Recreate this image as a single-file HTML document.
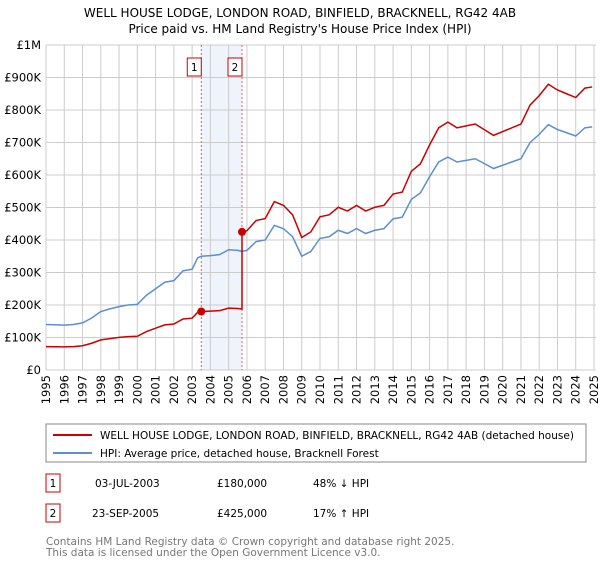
<!DOCTYPE html>
<html><head><meta charset="utf-8"><style>
body{margin:0;background:#fff;font-family:"Liberation Sans","DejaVu Sans",sans-serif;}
svg text{font-family:"DejaVu Sans","Liberation Sans",sans-serif;}
</style></head><body>
<svg id="c" width="600" height="560" xmlns="http://www.w3.org/2000/svg">
<text x="300" y="17" text-anchor="middle" font-size="12">WELL HOUSE LODGE, LONDON ROAD, BINFIELD, BRACKNELL, RG42 4AB</text>
<text x="300" y="33" text-anchor="middle" font-size="12">Price paid vs. HM Land Registry's House Price Index (HPI)</text>
<g id="grid"></g><g id="plot"></g>
<g>
<rect x="46" y="424" width="540" height="38" fill="#fff" stroke="#888"/>
<line x1="53" y1="435" x2="92" y2="435" stroke="#cc0000" stroke-width="2"/>
<text x="100" y="439" font-size="10.5">WELL HOUSE LODGE, LONDON ROAD, BINFIELD, BRACKNELL, RG42 4AB (detached house)</text>
<line x1="53" y1="453" x2="92" y2="453" stroke="#5b8fd0" stroke-width="2"/>
<text x="100" y="457" font-size="10.5">HPI: Average price, detached house, Bracknell Forest</text>
</g>
<g font-size="10.5">
<rect x="46" y="474" width="14" height="18" fill="#fff" stroke="#cc0000"/><text x="53" y="487" text-anchor="middle">1</text>
<text x="95" y="487">03-JUL-2003</text><text x="217" y="487">£180,000</text><text x="313" y="487">48% ↓ HPI</text>
<rect x="46" y="504" width="14" height="18" fill="#fff" stroke="#cc0000"/><text x="53" y="517" text-anchor="middle">2</text>
<text x="92" y="517">23-SEP-2005</text><text x="217" y="517">£425,000</text><text x="313" y="517">17% ↑ HPI</text>
</g>
<text x="46" y="545" font-size="10.5" fill="#777">Contains HM Land Registry data © Crown copyright and database right 2025.</text>
<text x="46" y="556" font-size="10.5" fill="#777">This data is licensed under the Open Government Licence v3.0.</text>
</svg>
<script>
const hpiYears=[1995,1996,1996.5,1997,1997.5,1998,1998.5,1999,1999.5,2000,2000.5,2001,2001.5,2002,2002.5,2003,2003.3,2003.5,2004,2004.5,2005,2005.5,2005.73,2006,2006.5,2007,2007.5,2008,2008.5,2009,2009.5,2010,2010.5,2011,2011.5,2012,2012.5,2013,2013.5,2014,2014.5,2015,2015.5,2016,2016.5,2017,2017.5,2018,2018.5,2019,2019.5,2020,2020.5,2021,2021.5,2022,2022.5,2023,2023.5,2024,2024.5,2024.9];
const hpiValues=[140,138,140,145,160,180,188,195,200,202,230,250,270,275,305,310,345,350,352,355,370,368,365,368,395,400,445,435,410,350,365,405,410,430,420,435,420,430,435,465,470,525,545,595,640,655,640,645,650,635,620,630,640,650,700,725,755,740,730,720,745,748];
const saleYears=[2003.5,2005.73];
const salePrices=[180,425];
const yTicks=[0,100,200,300,400,500,600,700,800,900,1000];
const yLabels=["£0","£100K","£200K","£300K","£400K","£500K","£600K","£700K","£800K","£900K","£1M"];
const xTicks=[1995,1996,1997,1998,1999,2000,2001,2002,2003,2004,2005,2006,2007,2008,2009,2010,2011,2012,2013,2014,2015,2016,2017,2018,2019,2020,2021,2022,2023,2024,2025];
const X0=46,X1=594,Y0=370,Y1=45;
const xs=y=>X0+(y-1995)/30*(X1-X0);
const ys=v=>Y0-v/1000*(Y0-Y1);
const NS="http://www.w3.org/2000/svg";
function mk(t,a,p){const e=document.createElementNS(NS,t);for(const k in a)e.setAttribute(k,a[k]);p.appendChild(e);return e;}
const g=document.getElementById('grid'),p=document.getElementById('plot');
const band=mk('rect',{x:xs(saleYears[0]),y:Y1,width:xs(saleYears[1])-xs(saleYears[0]),height:Y0-Y1,fill:'#eef3fc'},g);


yTicks.forEach((v,i)=>{
 const l=mk('line',{x1:X0,x2:X1+2,y1:ys(v),y2:ys(v),stroke:'#ccc'},g);
 
 
 const t=mk('text',{x:X0-5,y:ys(v)+4,'text-anchor':'end','font-size':'11.5'},g);t.textContent=yLabels[i];
 
 
});
xTicks.forEach(y=>{
 const l=mk('line',{x1:xs(y),x2:xs(y),y1:Y1,y2:Y0,stroke:'#ccc'},g);
 
 
 const t=mk('text',{x:0,y:0,'font-size':'11.5','text-anchor':'end',transform:`translate(${xs(y)+4},${Y0+5}) rotate(-90)`},g);t.textContent=y;
 
 
});
saleYears.forEach((sy,i)=>{
 const l=mk('line',{x1:xs(sy),x2:xs(sy),y1:Y1,y2:Y0,stroke:'#e06060','stroke-dasharray':'2,2'},g);
 
 
 const r=mk('rect',{x:xs(sy)-14,y:58,width:14,height:18,fill:'#fff',stroke:'#cc0000'},g);
 
 
 const t=mk('text',{x:xs(sy)-7,y:71,'text-anchor':'middle','font-size':'10.5'},g);t.textContent=i+1;
 
 
});
function hpiAt(y){for(let i=1;i<hpiYears.length;i++){if(y<=hpiYears[i]){const f=(y-hpiYears[i-1])/(hpiYears[i]-hpiYears[i-1]);return hpiValues[i-1]+f*(hpiValues[i]-hpiValues[i-1]);}}return hpiValues[hpiValues.length-1];}
const hp=mk('polyline',{points:hpiYears.map((y,i)=>xs(y)+','+ys(hpiValues[i])).join(' '),fill:'none',stroke:'#5b8fd0','stroke-width':1.5},p);


const r1=salePrices[0]/hpiAt(saleYears[0]),r2=salePrices[1]/hpiAt(saleYears[1]);
const pts=[];
hpiYears.forEach((y,i)=>{if(y<saleYears[1])pts.push(xs(y)+','+ys(hpiValues[i]*r1));});
pts.push(xs(saleYears[1])+','+ys(hpiAt(saleYears[1])*r1));
hpiYears.forEach((y,i)=>{if(y>=saleYears[1])pts.push(xs(y)+','+ys(hpiValues[i]*r2));});
const pl=mk('polyline',{points:pts.join(' '),fill:'none',stroke:'#cc0000','stroke-width':1.5},p);


saleYears.forEach((sy,i)=>{
 const c=mk('circle',{cx:xs(sy),cy:ys(salePrices[i]),r:4,fill:'#cc0000'},p);
 
 
});
</script>
</body></html>
